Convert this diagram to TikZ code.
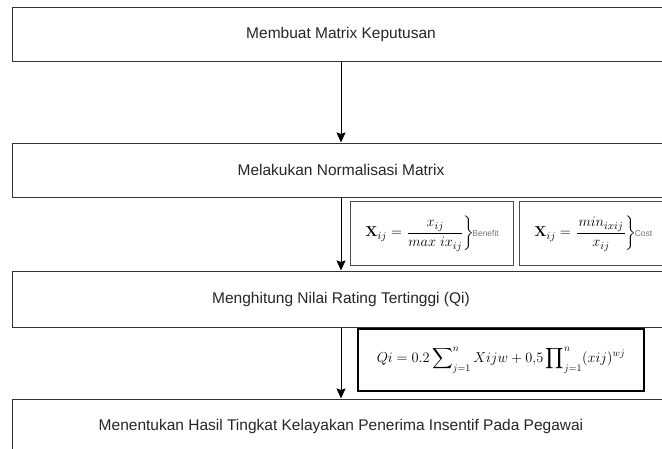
\documentclass[tikz,border=0pt]{standalone}
\usepackage{amsmath}
\usepackage[no-math]{fontspec}
\setmainfont{Liberation Sans}
\usetikzlibrary{positioning, arrows.meta}
\newcommand{\sidetext}[1]{{\color{black!55}\fontsize{8.5}{9}\selectfont #1}} % small label after a brace
\tikzset{
->, % makes the connectors directed
>={Stealth[length=10pt, width=9pt, inset=1.5pt]}, % solid arrow heads
node distance=75pt, % default gap between the steps
process/.style={draw=black!80, line width=1pt, minimum width=658pt, minimum height=54pt, text=black!85, font=\fontsize{15.5}{18}\selectfont}, % one step of the method
formula/.style={draw=black!70, line width=1.2pt, minimum height=64pt, inner sep=1pt, font=\fontsize{15}{18}\selectfont}, % box round a formula
}

\begin{document}
\begin{tikzpicture}[x=1pt, y=-1pt]
                \useasboundingbox (0,0) rectangle (662,448);
                \node[process] (p1) at (341,34) {Membuat Matrix Keputusan};
                \node[process, below=81pt of p1] (p2) {Melakukan Normalisasi Matrix};
                \node[process, below=73pt of p2, minimum height=56pt] (p3) {Menghitung Nilai Rating Tertinggi (Qi)};
                \node[process, below=71pt of p3] (p4) {Menentukan Hasil Tingkat Kelayakan Penerima Insentif Pada Pegawai};
                \node[formula, anchor=north west, minimum width=163pt] (benefit) at (350,201)
                    {$\mathbf{X}_{ij} = \left.\dfrac{x_{ij}}{max\;ix_{ij}}\right\}$\hspace{-2pt}\sidetext{Benefit}};
                \node[formula, right=5pt of benefit, minimum width=147pt] (cost)
                    {$\mathbf{X}_{ij} = \left.\dfrac{min_{ixij}}{\quad x_{ij}\quad}\right\}$\hspace{-2pt}\sidetext{Cost}\hspace{4pt}};
                \node[formula, draw=black, line width=2pt, anchor=north west, minimum width=286pt, minimum height=62pt, font=\fontsize{14}{16}\selectfont] (qi) at (357,328)
                    {$\displaystyle Qi = 0.2\sum\nolimits_{j=1}^{n} Xijw + 0{,}5\prod\nolimits_{j=1}^{n}(xij)^{wj}$};
                \draw[line width=1pt]
                    (p1) edge (p2)
                    (p2) edge (p3)
                    (p3) edge (p4)
                    ;
                \end{tikzpicture}
\end{document}
